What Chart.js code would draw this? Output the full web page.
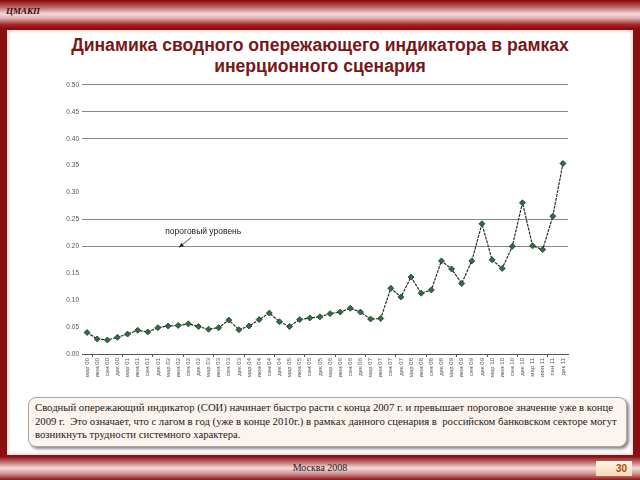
<!DOCTYPE html>
<html>
<head>
<meta charset="utf-8">
<script src="https://cdn.jsdelivr.net/npm/chart.js@4"></script>
<style>
    html, body { margin: 0; padding: 0; }
    body { width: 640px; height: 480px; position: relative; overflow: hidden; background: #8c0f0f; font-family: "Liberation Sans", Arial, sans-serif; }
    #header { position: absolute; left: 0; top: 0; width: 640px; height: 29px;
        background: linear-gradient(to bottom, #860909 0%, #b85a5a 22%, #f1dada 48%, #e2b4b4 62%, #a52626 85%, #860909 100%); }
    #brand { position: absolute; left: 6px; top: 6px; font-family: "Liberation Serif", "DejaVu Serif", serif; font-style: italic; font-weight: bold; font-size: 9px; color: #3a0a0a; }
    #page { position: absolute; left: 7px; top: 30px; width: 626px; height: 425px; background: #fff; box-shadow: inset 0 0 4px #e8b4b4; }
    #title { position: absolute; left: 0; top: 35px; width: 640px; text-align: center; font-weight: bold; font-size: 17.6px; line-height: 21px; color: #7a1616; }
    #chartBox { position: absolute; left: 0; top: 78px; width: 640px; height: 300px; }
    #note { position: absolute; left: 28px; top: 397px; width: 585px; height: 42px; padding: 3px 6px;
        background: #fcf4ed; border: 1px solid #a8a8a8; border-radius: 8px; box-shadow: 2px 2px 3px #888;
        font-family: "Liberation Serif", "DejaVu Serif", serif; font-size: 10.7px; line-height: 13.5px; color: #222; white-space: nowrap; }
    #footer { position: absolute; left: 0; top: 456px; width: 640px; height: 24px;
        background: linear-gradient(to bottom, #860909 0%, #c06a6a 25%, #f2dcdc 50%, #d79a9a 72%, #8f1414 100%); }
    #city { position: absolute; left: 0; top: 462px; width: 640px; text-align: center; font-family: "Liberation Serif", "DejaVu Serif", serif; font-size: 10px; color: #222; }
    #num { position: absolute; left: 596px; top: 461px; width: 36px; height: 15px; background: linear-gradient(to bottom, #fff6ec, #f6d8b8);
        text-align: right; font-size: 10px; font-weight: bold; line-height: 15px; color: #b04a10; box-sizing: border-box; padding-right: 5px; }
</style>
</head>
<body>
<div id="header"></div>
<div id="brand">ЦМАКП</div>
<div id="page"></div>
<div id="title">Динамика сводного опережающего индикатора в рамках<br>инерционного сценария</div>
<div id="chartBox"><canvas id="chart"></canvas></div>
<div id="note">Сводный опережающий индикатор (СОИ) начинает быстро расти с конца 2007 г. и превышает пороговое значение уже в конце<br>2009 г.&nbsp; Это означает, что с лагом в год (уже в конце 2010г.) в рамках данного сценария в&nbsp; российском банковском секторе могут<br>возникнуть трудности системного характера.</div>
<div id="footer"></div>
<div id="city">Москва 2008</div>
<div id="num">30</div>

<script>
// quarterly labels, march 2000 .. december 2011
const categories = [
    'мар 00', 'июн 00', 'сен 00', 'дек 00',
    'мар 01', 'июн 01', 'сен 01', 'дек 01',
    'мар 02', 'июн 02', 'сен 02', 'дек 02',
    'мар 03', 'июн 03', 'сен 03', 'дек 03',
    'мар 04', 'июн 04', 'сен 04', 'дек 04',
    'мар 05', 'июн 05', 'сен 05', 'дек 05',
    'мар 06', 'июн 06', 'сен 06', 'дек 06',
    'мар 07', 'июн 07', 'сен 07', 'дек 07',
    'мар 08', 'июн 08', 'сен 08', 'дек 08',
    'мар 09', 'июн 09', 'сен 09', 'дек 09',
    'мар 10', 'июн 10', 'сен 10', 'дек 10',
    'мар 11', 'июн 11', 'сен 11', 'дек 11'
];

// composite leading indicator
const indicator = [
    0.040, 0.028, 0.026, 0.031, 0.037, 0.044, 0.041, 0.049, 0.052, 0.053,
    0.056, 0.051, 0.046, 0.049, 0.063, 0.045, 0.052, 0.064, 0.076, 0.060,
    0.051, 0.064, 0.067, 0.069, 0.075, 0.078, 0.085, 0.078, 0.065, 0.066,
    0.122, 0.106, 0.143, 0.113, 0.119, 0.173, 0.158, 0.131, 0.173, 0.242,
    0.175, 0.159, 0.200, 0.281, 0.201, 0.194, 0.256, 0.354
];

const yMin = 0;
const yMax = 0.5;
const yStep = 0.05;
const thresholdLevel = 0.20;
const thresholdLabel = 'пороговый уровень';
// only these levels have a visible horizontal line
const gridLevels = [0.20, 0.25, 0.40, 0.45, 0.50];

// text + arrow for the threshold
const thresholdNote = {
    id: 'thresholdNote',
    afterDraw(chart) {
        const ctx = chart.ctx;
        const xs = chart.scales.x;
        const ys = chart.scales.y;
        const tipX = xs.getPixelForValue(9) + 1;
        const tipY = ys.getPixelForValue(thresholdLevel) + 1;
        ctx.save();
        ctx.fillStyle = '#222';
        ctx.font = '8.5px "Liberation Sans", Arial, sans-serif';
        ctx.textBaseline = 'alphabetic';
        ctx.fillText(thresholdLabel, tipX - 14, tipY - 13);
        // arrow line
        const sx = tipX + 12, sy = tipY - 10;
        ctx.strokeStyle = '#222';
        ctx.lineWidth = 0.8;
        ctx.beginPath();
        ctx.moveTo(sx, sy);
        ctx.lineTo(tipX, tipY);
        ctx.stroke();
        // arrow head
        const ang = Math.atan2(tipY - sy, tipX - sx);
        ctx.beginPath();
        ctx.moveTo(tipX, tipY);
        ctx.lineTo(tipX - 5 * Math.cos(ang - 0.45), tipY - 5 * Math.sin(ang - 0.45));
        ctx.lineTo(tipX - 5 * Math.cos(ang + 0.45), tipY - 5 * Math.sin(ang + 0.45));
        ctx.closePath();
        ctx.fill();
        ctx.restore();
    }
};

const ctx = document.getElementById('chart').getContext('2d');
const chart = new Chart(ctx, {
    type: 'line',
    data: {
        labels: categories,
        datasets: [{
            label: 'СОИ',
            data: indicator,
            borderColor: '#2b2b2b',
            borderWidth: 1.2,
            borderDash: [3, 1],
            tension: 0,
            pointStyle: 'rectRot',
            pointRadius: 3,
            pointBackgroundColor: '#2f6e44',
            pointBorderColor: '#163d24',
            pointBorderWidth: 0.8
        }]
    },
    options: {
        responsive: true,
        maintainAspectRatio: false,
        animation: false,
        layout: { padding: { top: 6, right: 72, left: 0, bottom: 0 } },
        plugins: {
            legend: { display: false },
            tooltip: { enabled: false }
        },
        scales: {
            x: {
                offset: true,
                afterFit: function (scale) { scale.height = 24; },
                border: { display: true, color: '#555', width: 1 },
                grid: {
                    offset: true,
                    drawOnChartArea: false,
                    tickLength: 3,
                    color: function (c) { return c.index % 3 === 1 ? '#555' : 'rgba(0,0,0,0)'; }
                },
                ticks: {
                    autoSkip: false,
                    minRotation: 90,
                    maxRotation: 90,
                    padding: 1,
                    color: '#555',
                    font: { family: '"Liberation Sans", Arial, sans-serif', size: 6 }
                }
            },
            y: {
                min: yMin,
                max: yMax,
                afterFit: function (scale) { scale.width = 82; },
                border: { display: false },
                grid: {
                    drawTicks: false,
                    lineWidth: 1,
                    color: function (c) {
                        const v = c.tick ? c.tick.value : null;
                        return gridLevels.some(g => Math.abs(g - v) < 1e-6) ? '#8a8a8a' : 'rgba(0,0,0,0)';
                    }
                },
                ticks: {
                    stepSize: yStep,
                    padding: 3,
                    color: '#555',
                    font: { family: '"Liberation Sans", Arial, sans-serif', size: 6.5 },
                    callback: function (value) { return value.toFixed(2); }
                }
            }
        }
    },
    plugins: [thresholdNote]
});
</script>
</body>
</html>
